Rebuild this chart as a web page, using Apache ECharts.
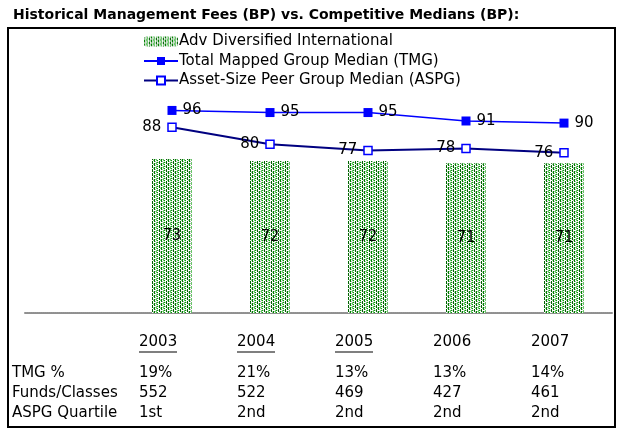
<!DOCTYPE html>
<html><head><meta charset="utf-8">
<script src="https://cdn.jsdelivr.net/npm/echarts@6/dist/echarts.min.js"></script>
<style>html,body{margin:0;padding:0;background:#fff}#c{width:625px;height:430px}</style>
</head><body><div id="c"></div>
<script>
// ---- data ----
const categories = ['', '2003', '2004', '2005', '2006', '2007'];
const advDiversified = [null, 73, 72, 72, 71, 71];
const tmgMedian = [null, 96, 95, 95, 91, 90];
const aspgMedian = [null, 88, 80, 77, 78, 76];
const tmgPct = ['', '19%', '21%', '13%', '13%', '14%'];
const fundsClasses = ['', '552', '522', '469', '427', '461'];
const aspgQuartile = ['', '1st', '2nd', '2nd', '2nd', '2nd'];
const yearUnderlined = [false, true, true, true, false, false];
const rowLabels = ['TMG %', 'Funds/Classes', 'ASPG Quartile'];
const seriesNames = ['Adv Diversified International', 'Total Mapped Group Median (TMG)', 'Asset-Size Peer Group Median (ASPG)'];
const titleText = 'Historical Management Fees (BP) vs. Competitive Medians (BP):';

// ---- pattern for bars ----
function makePattern() {
  const c = document.createElement('canvas');
  c.width = 7; c.height = 4;
  const g = c.getContext('2d');
  g.fillStyle = '#fff'; g.fillRect(0, 0, 7, 4);
  const px = (x, y, col) => { g.fillStyle = col; g.fillRect(x, y, 1, 1); };
  px(0,0,'#008000'); px(0,1,'#008000'); px(0,3,'#008000');
  px(1,1,'#b8b8b8'); px(1,3,'#a0d8a0');
  px(2,0,'#6cc06c'); px(2,2,'#6cc06c'); px(2,3,'#6cc06c');
  px(3,0,'#00a000'); px(3,1,'#c8e6c8'); px(3,2,'#00a000');
  px(4,2,'#c0c0c0');
  px(5,1,'#006400'); px(5,2,'#006400'); px(5,3,'#006400');
  px(6,0,'#90d090'); px(6,3,'#d0d0d0');
  return c;
}
const pattern = { image: makePattern(), repeat: 'repeat' };
const FF = 'DejaVu Sans';

const chart = echarts.init(document.getElementById('c'), null, { renderer: 'canvas' });
chart.setOption({
  animation: false,
  backgroundColor: '#fff',
  title: { text: titleText, left: 8, top: 3, textStyle: { fontFamily: FF, fontSize: 14, fontWeight: 'bold', color: '#000' } },
  legend: {
    orient: 'vertical', left: 138, top: 29, itemWidth: 34, itemHeight: 10, itemGap: 4.5,
    textStyle: { fontFamily: FF, fontSize: 15, color: '#000', padding: [0,0,0,-4] },
    data: seriesNames
  },
  grid: [
    { left: 25, right: 12, top: 102, bottom: 117, outerBoundsMode: 'none' },
    { left: -8, right: 45, top: 102, bottom: 117, outerBoundsMode: 'none' }
  ],
  xAxis: [
    { type: 'category', gridIndex: 0, data: categories,
      axisLine: { show: true, lineStyle: { color: '#909090', width: 2, type: [1, 1] } },
      axisTick: { show: false }, axisLabel: { show: false }, splitLine: { show: false } },
    { type: 'category', gridIndex: 1, data: categories,
      axisLine: { show: false }, axisTick: { show: false }, splitLine: { show: false },
      axisLabel: {
        interval: 0, align: 'left', verticalAlign: 'top', margin: 21,
        fontFamily: FF, color: '#000',
        formatter: function (v, i) {
          if (!v) return '';
          return '{y|' + v + '}\n{' + (yearUnderlined[i] ? 'u' : 'n') + '| }\n{s| }\n{v|' + tmgPct[i] + '}\n{v|' + fundsClasses[i] + '}\n{v|' + aspgQuartile[i] + '}';
        },
        rich: {
          y: { fontFamily: FF, fontSize: 15, lineHeight: 17, color: '#000' },
          u: { fontSize: 1, width: 38, height: 1, lineHeight: 2, backgroundColor: '#000' },
          n: { fontSize: 1, width: 38, height: 1, lineHeight: 2 },
          s: { fontSize: 1, lineHeight: 10 },
          v: { fontFamily: FF, fontSize: 15, lineHeight: 20, color: '#000' }
        }
      } }
  ],
  yAxis: [
    { type: 'value', gridIndex: 0, min: 0, max: 100, show: false },
    { type: 'value', gridIndex: 1, min: 0, max: 100, show: false }
  ],
  series: [
    { name: seriesNames[0], type: 'bar', data: advDiversified, barWidth: 40,
      itemStyle: { color: pattern },
      label: { show: true, position: 'inside', fontFamily: 'DejaVu Sans Mono', fontSize: 15, color: '#000', textBorderWidth: 0 } },
    { name: seriesNames[1], type: 'line', data: tmgMedian, symbol: 'rect', symbolSize: 9,
      lineStyle: { color: '#0000ff', width: 1.5 }, itemStyle: { color: '#0000ff', borderWidth: 0 },
      label: { show: true, position: 'right', distance: 6, fontFamily: FF, fontSize: 15, color: '#000' } },
    { name: seriesNames[2], type: 'line', data: aspgMedian, symbol: 'rect', symbolSize: 8,
      lineStyle: { color: '#000080', width: 2 }, itemStyle: { color: '#fff', borderColor: '#0000ff', borderWidth: 1.5 },
      label: { show: true, position: 'left', distance: 6, fontFamily: FF, fontSize: 15, color: '#000' } }
  ],
  graphic: [
    { type: 'rect', shape: { x: 8, y: 28, width: 607, height: 399 }, style: { fill: null, stroke: '#000', lineWidth: 2 }, silent: true },
    { type: 'group', children: rowLabels.map(function (t, i) {
        return { type: 'text', x: 12, y: 373 + i * 20, style: { text: t, font: '15px "DejaVu Sans"', fill: '#000', verticalAlign: 'middle' } };
      }) }
  ]
});
</script></body></html>
